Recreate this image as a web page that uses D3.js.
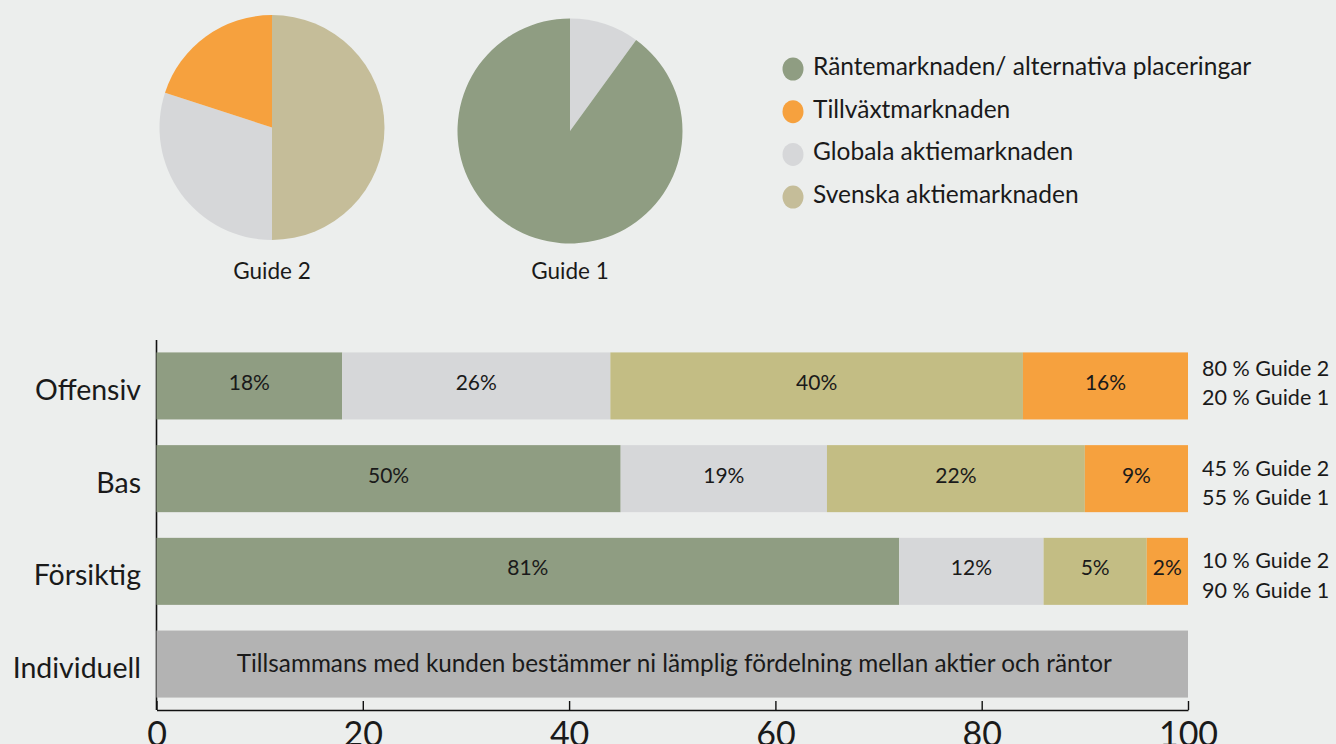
<!DOCTYPE html>
<html>
<head>
<meta charset="utf-8">
<script src="https://cdn.jsdelivr.net/npm/d3@7"></script>
<style>
  html, body { margin: 0; padding: 0; background: #eceeed; }
  svg { display: block; }
  text { font-family: Lato, "Open Sans", sans-serif; fill: #1a1a1a; }
</style>
</head>
<body>
<svg id="chart" width="1336" height="744"></svg>
<script>
// ---------- data ----------
const seriesNames = ["Räntemarknaden/ alternativa placeringar", "Tillväxtmarknaden", "Globala aktiemarknaden", "Svenska aktiemarknaden"];
const barColors  = ["#8f9d82", "#d6d7d9", "#c3bd84", "#f6a13e"];     // bar segment order: green, grey, khaki, orange
const legendColors = ["#8f9d82", "#f6a13e", "#d6d7d9", "#c5bd99"];   // legend order
const categories = ["Offensiv", "Bas", "Försiktig", "Individuell"];
// segment widths (as drawn) for green, grey, khaki, orange
const offensivWidths  = [18, 26, 40, 16];
const basWidths       = [45, 20, 25, 10];
const forsiktigWidths = [72, 14, 10, 4];
// segment labels as printed
const offensivLabels  = ["18%", "26%", "40%", "16%"];
const basLabels       = ["50%", "19%", "22%", "9%"];
const forsiktigLabels = ["81%", "12%", "5%", "2%"];
const individuellValue = 100;
const individuellText = "Tillsammans med kunden bestämmer ni lämplig fördelning mellan aktier och räntor";
const guideMixLabels = [
  ["80 % Guide 2", "20 % Guide 1"],
  ["45 % Guide 2", "55 % Guide 1"],
  ["10 % Guide 2", "90 % Guide 1"]
];
const xTicks = [0, 20, 40, 60, 80, 100];
// pies (clockwise from 12 o'clock)
const guide2Values = [50, 30, 20];
const guide2Colors = ["#c5bd99", "#d6d7d9", "#f6a13e"];
const guide1Values = [10, 90];
const guide1Colors = ["#d6d7d9", "#8f9d82"];
const pieNames = ["Guide 2", "Guide 1"];

// ---------- drawing ----------
const svg = d3.select("#chart");
svg.append("rect").attr("width", 1336).attr("height", 744).attr("fill", "#eceeed");

const x = d3.scaleLinear().domain([0, 100]).range([156.5, 1188]);
const y = d3.scaleBand().domain(categories).range([340, 710]).paddingInner(0.277).paddingOuter(0.134);

// left axis line
svg.append("line").attr("x1", x(0)).attr("x2", x(0)).attr("y1", 340).attr("y2", 710)
  .attr("stroke", "#111").attr("stroke-width", 1.6);

// bottom axis
const xAxis = d3.axisBottom(x).tickValues(xTicks).tickSize(-9).tickPadding(14).tickSizeOuter(0);
const gx = svg.append("g").attr("transform", "translate(0,710)").call(xAxis);
gx.select(".domain").attr("stroke", "#111").attr("stroke-width", 1.6);
gx.selectAll(".tick line").attr("stroke", "#111").attr("stroke-width", 1.4);
gx.selectAll(".tick text").attr("font-size", 34).attr("font-family", "Lato, 'Open Sans', sans-serif")
  .attr("fill", "#1a1a1a").attr("dy", null).attr("y", 36);

const rows = [
  { cat: "Offensiv", widths: offensivWidths, labels: offensivLabels, mix: guideMixLabels[0] },
  { cat: "Bas", widths: basWidths, labels: basLabels, mix: guideMixLabels[1] },
  { cat: "Försiktig", widths: forsiktigWidths, labels: forsiktigLabels, mix: guideMixLabels[2] }
];
const mixShift = [-10, -3, -3]; // layout: vertical shift of the two-line guide-mix note per row

rows.forEach((r, ri) => {
  let acc = 0;
  const segs = r.widths.map((w, i) => { const s = { x0: acc, x1: acc + w, label: r.labels[i], color: barColors[i] }; acc += w; return s; });
  const g = svg.append("g");
  const top = y(r.cat), h = y.bandwidth(), cy = top + h / 2;
  g.selectAll("rect").data(segs).join("rect")
    .attr("x", d => x(d.x0)).attr("width", d => x(d.x1) - x(d.x0))
    .attr("y", top).attr("height", h).attr("fill", d => d.color);
  g.selectAll("text").data(segs).join("text")
    .attr("x", d => (x(d.x0) + x(d.x1)) / 2).attr("y", cy + 4)
    .attr("text-anchor", "middle").attr("font-size", 21).text(d => d.label);
  svg.append("text").attr("x", 1202).attr("y", cy + mixShift[ri]).attr("font-size", 21.5).text(r.mix[0]);
  svg.append("text").attr("x", 1202).attr("y", cy + mixShift[ri] + 29.5).attr("font-size", 21.5).text(r.mix[1]);
});

// Individuell bar
{
  const top = y("Individuell"), h = y.bandwidth(), cy = top + h / 2;
  svg.append("rect").attr("x", x(0)).attr("width", x(individuellValue) - x(0))
    .attr("y", top).attr("height", h).attr("fill", "#b3b3b3");
  svg.append("text").attr("x", (x(0) + x(individuellValue)) / 2 + 2).attr("y", cy + 8)
    .attr("text-anchor", "middle").attr("font-size", 24.3).text(individuellText);
}

// category labels
svg.selectAll("text.cat").data(categories).join("text").attr("class", "cat")
  .attr("x", 141).attr("y", d => y(d) + y.bandwidth() / 2 + 14)
  .attr("text-anchor", "end").attr("font-size", 28.5).text(d => d);

// pies
const pie = d3.pie().sort(null).value(d => d);
const arc = d3.arc().innerRadius(0).outerRadius(112.5);
const pies = [
  { cx: 272, cy: 127.5, values: guide2Values, colors: guide2Colors, name: pieNames[0] },
  { cx: 570, cy: 131, values: guide1Values, colors: guide1Colors, name: pieNames[1] }
];
pies.forEach(p => {
  const g = svg.append("g").attr("transform", `translate(${p.cx},${p.cy})`);
  g.selectAll("path").data(pie(p.values)).join("path")
    .attr("d", arc).attr("fill", (d, i) => p.colors[i]);
  svg.append("text").attr("x", p.cx).attr("y", 279).attr("text-anchor", "middle")
    .attr("font-size", 22.5).text(p.name);
});

// legend
const lg = svg.append("g");
seriesNames.forEach((name, i) => {
  const ly = 69 + i * 42.7;
  lg.append("ellipse").attr("cx", 793).attr("cy", ly).attr("rx", 10.5).attr("ry", 11.5).attr("fill", legendColors[i]);
  lg.append("text").attr("x", 813).attr("y", ly + 6).attr("font-size", 24.5).text(name);
});
</script>
</body>
</html>
